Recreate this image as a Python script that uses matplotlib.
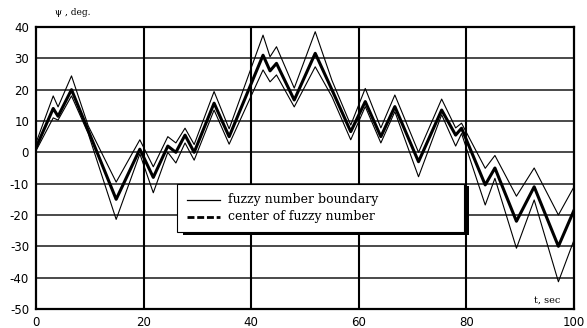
import matplotlib
matplotlib.use("Agg")
import matplotlib.pyplot as plt
from matplotlib.patches import Rectangle
from matplotlib.lines import Line2D

# ---- data ----
t = [0, 3.2, 4.1, 6.6, 9.7, 14.9, 19.3, 21.8, 24.5, 26.0, 27.7, 29.4, 33.1, 35.9,
     42.2, 43.5, 44.7, 48.0, 51.9, 55.0, 58.5, 61.2, 64.1, 66.7, 71.1, 75.4, 78.0,
     79.1, 83.5, 85.3, 89.3, 92.6, 97.1, 100]
center = [1.5, 14, 11.5, 20, 7, -15, 1, -8, 2, 0, 5.5, 0, 15.7, 5,
          31, 26, 28.4, 16.7, 31.6, 20, 6.6, 16.2, 5, 14.6, -3, 13.5, 5.5,
          7.7, -10.4, -5, -22, -11, -30, -18.5]
upper = [3, 18, 14.5, 24.4, 8.5, -9.5, 4, -4.6, 5, 3, 7.7, 2.5, 19.4, 7.5,
         37.4, 30.5, 33.7, 20.5, 38.5, 23, 8.7, 20.4, 7.8, 18.3, 0, 17, 7.8,
         9.3, -5.1, -1, -14, -5, -20, -11]
lower = [0.5, 11, 10.3, 18, 6, -21.4, -0.5, -12.9, 0, -3.4, 3, -2.5, 13.5, 2.6,
         26.3, 22.5, 24.7, 14.5, 27.3, 17.8, 4, 14.6, 3, 13, -7.8, 12, 2,
         6, -16.8, -8.3, -30.6, -15.2, -41.3, -28]

x_ticks = [0, 20, 40, 60, 80, 100]
x_tick_labels = ["0", "20", "40", "60", "80", "100"]
y_ticks = [-50, -40, -30, -20, -10, 0, 10, 20, 30, 40]
y_tick_labels = ["-50", "-40", "-30", "-20", "-10", "0", "10", "20", "30", "40"]
legend_labels = ["fuzzy number boundary", "center of fuzzy number"]
y_title = "\u03c8 , deg."
x_title = "t, sec"

fig = plt.figure(figsize=(5.87, 3.28), dpi=100)
ax = fig.add_axes([36/587, 1-309/328, 538/587, 282/328])

ax.set_xlim(0, 100)
ax.set_ylim(-50, 40)

# grid
for yv in y_ticks:
    ax.axhline(yv, color="#2a2a2a", lw=1.2, zorder=1)
for xv in x_ticks[1:-1]:
    ax.axvline(xv, color="black", lw=1.5, zorder=1)

ax.plot(t, upper, color="black", lw=0.8, zorder=3)
ax.plot(t, lower, color="black", lw=0.8, zorder=3)
ax.plot(t, center, color="black", lw=2.2, zorder=4)

for s in ax.spines.values():
    s.set_linewidth(1.6)
    s.set_color("black")

ax.set_xticks(x_ticks)
ax.set_xticklabels(x_tick_labels, fontsize=8.5, family="DejaVu Sans")
ax.set_yticks(y_ticks)
ax.set_yticklabels(y_tick_labels, fontsize=8.5, family="DejaVu Sans")
ax.tick_params(length=0, pad=5)

# axis titles
ax.text(0.035, 1.05, y_title, transform=ax.transAxes, fontsize=6.5,
        family="DejaVu Serif", ha="left", va="center")
ax.text(0.974, 0.032, x_title, transform=ax.transAxes, fontsize=7,
        family="DejaVu Serif", ha="right", va="center")

# legend (manual, with shadow)
def ax_x(px):
    return (px - 36) / 538.0

def ax_y(py):
    return (309 - py) / 282.0

shadow = Rectangle((ax_x(183), ax_y(235)), ax_x(469) - ax_x(183), ax_y(186) - ax_y(235),
                   transform=ax.transAxes, facecolor="black", edgecolor="none", zorder=10)
box = Rectangle((ax_x(177), ax_y(232)), ax_x(464) - ax_x(177), ax_y(184) - ax_y(232),
                transform=ax.transAxes, facecolor="white", edgecolor="black", lw=0.8, zorder=11)
ax.add_patch(shadow)
ax.add_patch(box)
ax.add_line(Line2D([ax_x(187), ax_x(220)], [ax_y(200), ax_y(200)], transform=ax.transAxes,
                   color="black", lw=0.9, zorder=12))
ax.add_line(Line2D([ax_x(187), ax_x(220)], [ax_y(217), ax_y(217)], transform=ax.transAxes,
                   color="black", lw=2.0, linestyle=(0, (2.5, 1)), zorder=12))
ax.text(ax_x(228), ax_y(200), legend_labels[0], transform=ax.transAxes, fontsize=9,
        family="DejaVu Serif", ha="left", va="center", zorder=12)
ax.text(ax_x(228), ax_y(217), legend_labels[1], transform=ax.transAxes, fontsize=9,
        family="DejaVu Serif", ha="left", va="center", zorder=12)

fig.savefig("out.png", dpi=100)
